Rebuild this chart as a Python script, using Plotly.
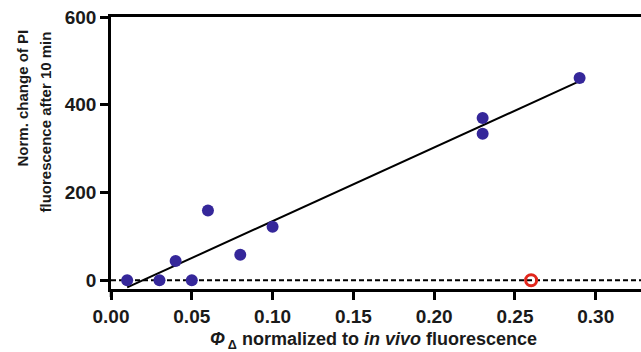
import numpy as np
import plotly.graph_objects as go

# Data
phi_x = [0.01, 0.03, 0.04, 0.05, 0.06, 0.08, 0.10, 0.23, 0.23, 0.29]
pi_y = [0, 0, 44, 0, 159, 58, 122, 370, 334, 461]
outlier_x = [0.26]
outlier_y = [0]

x_ticks = [0.00, 0.05, 0.10, 0.15, 0.20, 0.25, 0.30]
x_tick_labels = ["0.00", "0.05", "0.10", "0.15", "0.20", "0.25", "0.30"]
y_ticks = [0, 200, 400, 600]
y_title_lines = ["Norm. change of PI", "fluorescence after 10 min"]
x_title = "<i>Φ</i><sub> Δ</sub> normalized to <i>in vivo</i> fluorescence"

slope, intercept = np.polyfit(phi_x, pi_y, 1)
fit_x = [min(phi_x), max(phi_x)]
fit_y = [slope * v + intercept for v in fit_x]

FONT = "Liberation Sans, Arial, sans-serif"
L, T, W, H = 111, 17, 641, 352
PW, PH = W - L, 289 - T


def px_x(p):
    return (p - L) / PW


def px_y(p):
    return (289 - p) / PH


fig = go.Figure()
fig.add_trace(go.Scatter(x=[0, 0.4], y=[0, 0], mode="lines",
                         line=dict(color="black", width=2.2, dash="5px,3px"),
                         hoverinfo="skip", showlegend=False))
fig.add_trace(go.Scatter(x=fit_x, y=fit_y, mode="lines",
                         line=dict(color="black", width=2), showlegend=False))
fig.add_trace(go.Scatter(x=phi_x, y=pi_y, mode="markers",
                         marker=dict(color="#35279a", size=12, line=dict(width=0)),
                         showlegend=False, cliponaxis=False))
fig.add_trace(go.Scatter(x=outlier_x, y=outlier_y, mode="markers",
                         marker=dict(symbol="circle-open", color="#e1261c", size=11,
                                     line=dict(width=3, color="#e1261c")),
                         showlegend=False, cliponaxis=False))

annotations = [
    dict(text=y_title_lines[0], textangle=-90, xref="paper", yref="paper",
         x=px_x(22), y=px_y(28), xanchor="center", yanchor="top", showarrow=False,
         font=dict(size=15, family=FONT, weight="bold", color="#1a1a1a")),
    dict(text=y_title_lines[1], textangle=-90, xref="paper", yref="paper",
         x=px_x(45), y=px_y(30), xanchor="center", yanchor="top", showarrow=False,
         font=dict(size=15, family=FONT, weight="bold", color="#1a1a1a")),
    dict(text=x_title, xref="paper", yref="paper",
         x=px_x(373), y=px_y(340), xanchor="center", yanchor="middle", showarrow=False,
         font=dict(size=18, family=FONT, weight="bold", color="#1a1a1a")),
]

fig.update_layout(
    width=W, height=H,
    margin=dict(l=L, r=0, t=T, b=H - 289),
    plot_bgcolor="white", paper_bgcolor="white",
    font=dict(family=FONT, color="#1a1a1a"),
    annotations=annotations,
    shapes=[dict(type="line", xref="paper", yref="paper", x0=0, x1=0,
                 y0=0, y1=px_y(297), line=dict(color="black", width=2.5))],
    xaxis=dict(range=[0, 0.328], tickvals=x_ticks, ticktext=x_tick_labels,
               showline=True, linecolor="black", linewidth=2.5, mirror=True,
               ticks="outside", ticklen=8, tickwidth=2.5, tickcolor="black",
               showgrid=False, zeroline=False, automargin=False,
               tickfont=dict(size=19, family=FONT, weight="bold")),
    yaxis=dict(range=[-20, 600], tickvals=y_ticks,
               showline=True, linecolor="black", linewidth=2.5,
               ticks="outside", ticklen=8, tickwidth=2.5, tickcolor="black",
               showgrid=False, zeroline=False, automargin=False,
               tickfont=dict(size=19, family=FONT, weight="bold")),
)

fig.write_html("out.html", config={"displayModeBar": False},
               post_script="document.body.style.margin='0';document.body.style.overflow='hidden';")
